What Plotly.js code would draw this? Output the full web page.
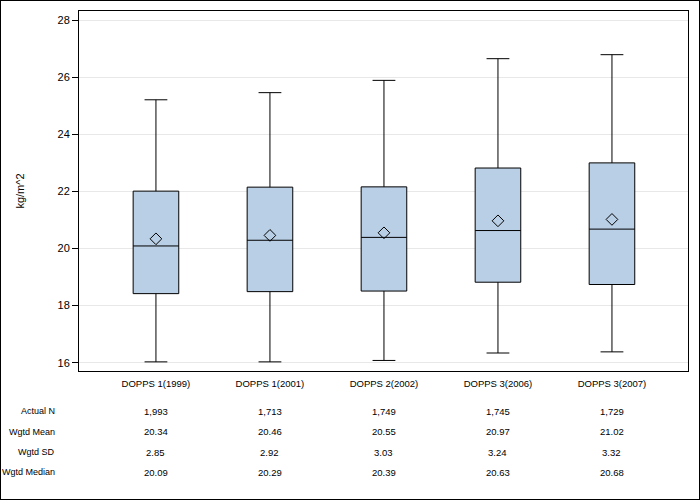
<!DOCTYPE html>
<html>
<head>
<meta charset="utf-8">
<script src="https://cdn.plot.ly/plotly-3.0.1.min.js"></script>
<style>
  html, body { margin: 0; padding: 0; background: #fff; }
  #wrap { width: 700px; height: 500px; box-sizing: border-box; border: 1px solid #000; }
  #chart { width: 698px; height: 498px; }
</style>
</head>
<body>
<div id="wrap"><div id="chart"></div></div>
<script>
const categories = ['DOPPS 1(1999)', 'DOPPS 1(2001)', 'DOPPS 2(2002)', 'DOPPS 3(2006)', 'DOPPS 3(2007)'];
const actualN = ['1,993', '1,713', '1,749', '1,745', '1,729'];
const wgtdMean = [20.34, 20.46, 20.55, 20.97, 21.02];
const wgtdSD = [2.85, 2.92, 3.03, 3.24, 3.32];
const wgtdMedian = [20.09, 20.29, 20.39, 20.63, 20.68];
const q1 = [18.42, 18.49, 18.51, 18.82, 18.74];
const q3 = [22.01, 22.15, 22.16, 22.82, 23.00];
const lowerWhisker = [16.03, 16.03, 16.08, 16.34, 16.38];
const upperWhisker = [25.21, 25.46, 25.89, 26.65, 26.79];
const rowLabels = ['Actual N', 'Wgtd Mean', 'Wgtd SD', 'Wgtd Median'];

const regular = 'Liberation Sans, Arial, sans-serif';
const tableSize = 9.5;

const boxTrace = {
  type: 'box',
  x: categories,
  q1: q1,
  median: wgtdMedian,
  q3: q3,
  lowerfence: lowerWhisker,
  upperfence: upperWhisker,
  fillcolor: '#B9CFE6',
  line: { color: '#000', width: 1 },
  whiskerwidth: 0.5,
  width: 0.4,
  boxpoints: false,
  hoverinfo: 'skip',
  showlegend: false
};

const meanTrace = {
  type: 'scatter',
  mode: 'markers',
  x: categories,
  y: wgtdMean,
  marker: { symbol: 'diamond-open', size: 9, color: '#000', line: { width: 1, color: '#000' } },
  hoverinfo: 'skip',
  showlegend: false
};

// table rows (pixel rows relative to page; plot area spans page y 11..370)
const plotTop = 11, plotBottom = 370;
const rowPix = [410, 430.5, 451, 471];
const toPaper = p => (plotBottom - p) / (plotBottom - plotTop);
const rows = [actualN, wgtdMean.map(v => v.toFixed(2)), wgtdSD.map(v => v.toFixed(2)), wgtdMedian.map(v => v.toFixed(2))];

const annotations = [];
rows.forEach((vals, r) => {
  const y = toPaper(rowPix[r]);
  annotations.push({
    xref: 'paper', yref: 'paper', x: (57 - 79) / 609, y: y,
    xanchor: 'right', yanchor: 'middle', showarrow: false,
    text: rowLabels[r], font: { family: regular, size: 9, color: '#000' }
  });
  vals.forEach((v, i) => {
    annotations.push({
      xref: 'x', yref: 'paper', x: categories[i], y: y,
      xanchor: 'center', yanchor: 'middle', showarrow: false,
      text: String(v), font: { family: regular, size: tableSize, color: '#000' }
    });
  });
});

const layout = {
  width: 698, height: 498,
  margin: { l: 78, r: 11, t: 10, b: 128 },
  paper_bgcolor: '#fff', plot_bgcolor: '#fff',
  showlegend: false,
  xaxis: {
    type: 'category',
    range: [-0.675, 4.667],
    showline: true, linecolor: '#000', linewidth: 1, mirror: true,
    showgrid: false, zeroline: false,
    ticks: 'outside', ticklen: 4, tickcolor: 'rgba(0,0,0,0)',
    tickfont: { family: regular, size: tableSize, color: '#000' }
  },
  yaxis: {
    range: [15.71, 28.32],
    tickvals: [16, 18, 20, 22, 24, 26, 28],
    ticks: 'outside', ticklen: 6, tickcolor: '#000', tickwidth: 1,
    showline: true, linecolor: '#000', linewidth: 1, mirror: true,
    showgrid: true, gridcolor: '#E8E8E8', gridwidth: 1, zeroline: false,
    tickfont: { family: regular, size: 11, color: '#000' },
    title: { text: 'kg/m^2', font: { family: regular, size: 11, color: '#000' }, standoff: 30 }
  },
  annotations: annotations
};

Plotly.newPlot('chart', [boxTrace, meanTrace], layout, { displayModeBar: false, staticPlot: true });
</script>
</body>
</html>
